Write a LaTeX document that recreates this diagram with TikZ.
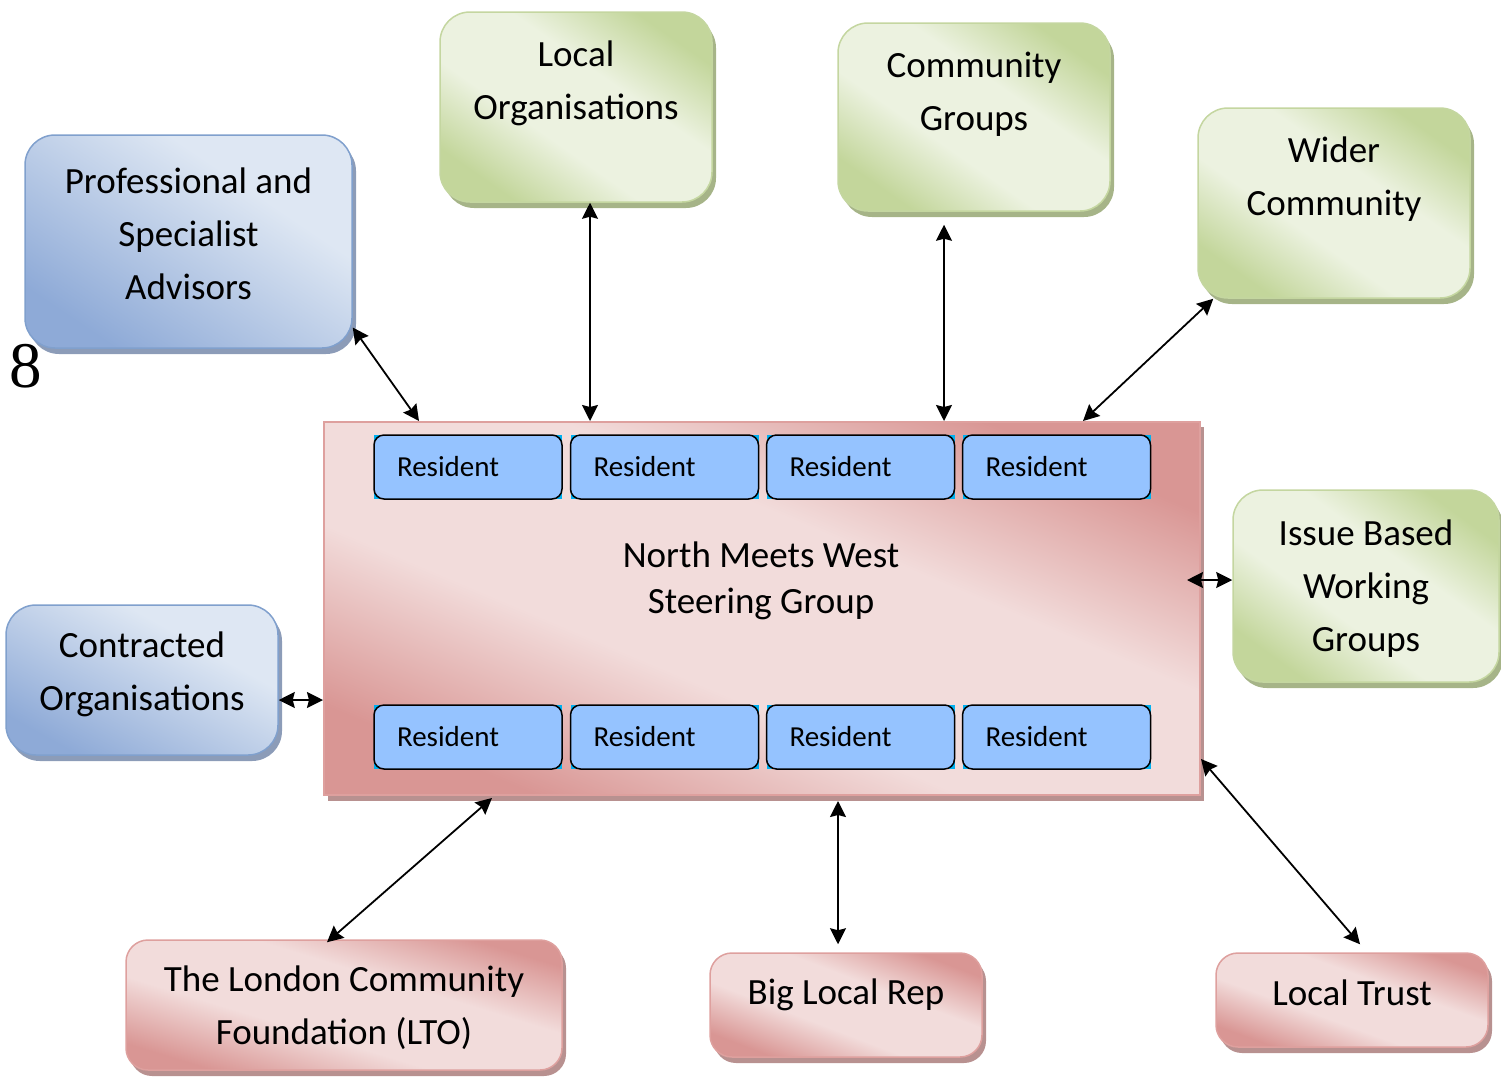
\documentclass[tikz,border=0pt]{standalone}
\usepackage{fontspec}
\setmainfont{Carlito}
\newfontfamily\numfont{Liberation Serif}
\usetikzlibrary{arrows.meta,positioning,shadows}

\definecolor{bluedark}{RGB}{142,170,215}
\definecolor{bluelight}{RGB}{222,231,243}
\definecolor{blueline}{RGB}{128,160,205}
\definecolor{blueshad}{RGB}{140,156,184}
\definecolor{greendark}{RGB}{195,214,155}
\definecolor{greenlight}{RGB}{236,242,224}
\definecolor{greenline}{RGB}{196,214,160}
\definecolor{greenshad}{RGB}{166,180,136}
\definecolor{pinkdark}{RGB}{217,150,148}
\definecolor{pinklight}{RGB}{242,220,219}
\definecolor{pinkline}{RGB}{222,160,158}
\definecolor{pinkshad}{RGB}{184,145,144}
\definecolor{resfill}{RGB}{149,195,255}
\definecolor{rescyan}{RGB}{0,176,240}

% diagonal gradients: dark corners, broad light band
\pgfdeclareverticalshading{pinkband}{100bp}{color(0bp)=(pinkdark); color(25bp)=(pinkdark);
  color(41bp)=(pinklight); color(59bp)=(pinklight); color(75bp)=(pinkdark); color(100bp)=(pinkdark)}
\pgfdeclareverticalshading{greenband}{100bp}{color(0bp)=(greendark); color(25bp)=(greendark);
  color(41bp)=(greenlight); color(59bp)=(greenlight); color(75bp)=(greendark); color(100bp)=(greendark)}
\pgfdeclareverticalshading{bluefade}{100bp}{color(0bp)=(bluedark); color(25bp)=(bluedark);
  color(65bp)=(bluelight); color(100bp)=(bluelight)}

\tikzset{
  box/.style={rounded corners=30pt, inner sep=0pt, line width=1.5pt, shade},
  bluebox/.style={box, draw=blueline, shading=bluefade, shading angle=#1,
    drop shadow={shadow xshift=4pt, shadow yshift=-6pt, fill=blueshad, opacity=1}},
  greenbox/.style={box, draw=greenline, shading=greenband, shading angle=#1,
    drop shadow={shadow xshift=4pt, shadow yshift=-6pt, fill=greenshad, opacity=1}},
  greenbox/.default=-35,
  pinkbox/.style={box, rounded corners=22pt, draw=pinkline, shading=pinkband, shading angle=#1,
    drop shadow={shadow xshift=4pt, shadow yshift=-6pt, fill=pinkshad, opacity=1}},
  txt/.style={align=center, inner sep=0pt, font=\fontsize{37}{53}\selectfont},
  resident/.style={draw=black, line width=1.5pt, fill=resfill, rounded corners=10pt,
    minimum height=64pt, text width=142pt, inner xsep=23pt, inner ysep=0pt, align=left,
    font=\fontsize{29}{35}\selectfont},
  link/.style={{Stealth[length=16pt,width=16pt,inset=2pt]}-{Stealth[length=16pt,width=16pt,inset=2pt]},
    line width=1.8pt}
}

\begin{document}
\begin{tikzpicture}[x=1pt, y=-1pt]
  \useasboundingbox (0,0) rectangle (1501,1077);

  % Steering group with residents
  \node[pinkbox=-23, rounded corners=0pt, line width=2pt,
    drop shadow={shadow xshift=4pt, shadow yshift=-5pt, fill=pinkshad, opacity=1},
    minimum width=876pt, minimum height=373pt] (steer) at (762,608.5) {};
  \node[txt, font=\fontsize{37}{46}\selectfont] (steer-txt) at (761,581) {North Meets West\\Steering Group};
  \foreach \i/\x in {1/468,2/664.5,3/860.5,4/1056.5} {
    \fill[rescyan] (\x-94,435) rectangle ++(188,64);
    \node[resident] (rt\i) at (\x,467) {Resident};
    \fill[rescyan] (\x-94,705) rectangle ++(188,64);
    \node[resident] (rb\i) at (\x,737) {Resident};
  }

  % Top row
  \node[bluebox=-34, minimum width=327pt, minimum height=213pt] (prof) at (188.5,241.5) {};
  \node[txt] (prof-txt) at ([yshift=8pt]prof.center) {Professional and\\Specialist\\Advisors};
  \node[greenbox, minimum width=272pt, minimum height=190pt] (locorg) at (576,107) {};
  \node[txt] (locorg-txt) at ([yshift=23.5pt]locorg.center) {Local\\Organisations};
  \node[greenbox, minimum width=272pt, minimum height=188pt] (comm) at (974,117) {};
  \node[txt] (comm-txt) at ([yshift=23pt]comm.center) {Community\\Groups};
  \node[greenbox, minimum width=272pt, minimum height=190pt] (wider) at (1334,203) {};
  \node[txt] (wider-txt) at ([yshift=23.5pt]wider.center) {Wider\\Community};

  % Sides
  \node[greenbox=-36, minimum width=266pt, minimum height=192pt] (issue) at (1366,586) {};
  \node[txt] (issue-txt) at ([yshift=-3pt]issue.center) {Issue Based\\Working\\Groups};
  \node[bluebox=-29, minimum width=272pt, minimum height=150pt] (contr) at (142,680) {};
  \node[txt] (contr-txt) at ([yshift=6pt]contr.center) {Contracted\\Organisations};

  % Bottom row
  \node[pinkbox=-17, minimum width=436pt, minimum height=130pt] (london) at (344,1005) {};
  \node[txt] (london-txt) at ([yshift=-3pt]london.center) {The London Community\\Foundation (LTO)};
  \node[pinkbox=-21, minimum width=272pt, minimum height=104pt] (biglocal) at (846,1005) {};
  \node[txt] (biglocal-txt) at ([yshift=10pt]biglocal.center) {Big Local Rep};
  \node[pinkbox=-20, minimum width=272pt, minimum height=94pt] (trust) at (1352,1000) {};
  \node[txt] (trust-txt) at ([yshift=7pt]trust.center) {Local Trust};

  \node[font=\numfont\fontsize{65}{65}\selectfont, inner sep=0pt] (pagenum) at (26,366) {8};

  % Connectors
  \draw[link] ([yshift=-86pt]prof.east) -- ([xshift=96pt]steer.north west);
  \draw[link] ([xshift=14pt]locorg.south) -- ([xshift=14pt]locorg.south |- steer.north);
  \draw[link] ([xshift=-30pt,yshift=-13pt]comm.south) -- ([xshift=-30pt]comm.south |- steer.north);
  \draw[link] ([xshift=16pt]wider.south west) -- ([xshift=760pt]steer.north west);
  \draw[link] ([yshift=6pt]issue.west) -- ([xshift=-14pt,yshift=6pt]issue.west -| steer.east);
  \draw[link] ([yshift=-20pt]contr.east) -- ([yshift=-20pt]contr.east -| steer.west);
  \draw[link] ([xshift=-17pt,yshift=-3pt]london.north) -- ([xshift=169pt,yshift=-2pt]steer.south west);
  \draw[link] ([xshift=-8pt,yshift=8pt]biglocal.north) -- ([xshift=-8pt,yshift=-5pt]biglocal.north |- steer.south);
  \draw[link] ([xshift=8pt,yshift=8pt]trust.north) -- ([yshift=37pt]steer.south east);
\end{tikzpicture}
\end{document}
